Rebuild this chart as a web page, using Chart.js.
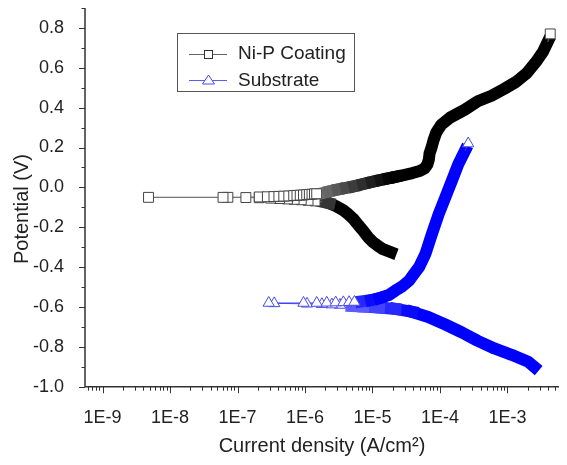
<!DOCTYPE html>
<html>
<head>
<meta charset="utf-8">
<script src="https://cdn.jsdelivr.net/npm/chart.js@4.4.1/dist/chart.umd.min.js"></script>
<style>
  html, body { margin: 0; padding: 0; background: #fff; }
</style>
</head>
<body>
<canvas id="myChart" width="567" height="465"></canvas>
<script>
// Ni-P coating: potential sweep, cathodic end -> Ecorr -> anodic end
var coatCathodicI = [1.87e-5, 1.43e-5, 1.17e-5, 1.02e-5, 8.6e-6, 7.3e-6, 6.2e-6, 5.2e-6, 4.4e-6, 3.7e-6, 2.9e-6, 2.3e-6, 1.78e-6];
var coatCathodicE = [-0.325, -0.31, -0.29, -0.275, -0.25, -0.218, -0.19, -0.158, -0.135, -0.115, -0.095, -0.08, -0.072];
var coatEcorrI = [1.41e-6, 1.11e-6, 8.8e-7, 6.9e-7, 5.5e-7, 4.2e-7, 3.1e-7, 2.1e-7, 1.33e-7, 7.2e-8, 4.8e-9, 6.1e-8, 2.1e-7, 2.77e-7, 3.47e-7, 4.1e-7, 4.85e-7, 5.75e-7, 6.8e-7, 7.6e-7, 8.5e-7, 9.5e-7, 1.06e-6, 1.16e-6, 1.27e-6, 1.38e-6, 1.49e-6];
var coatEcorrE = [-0.068, -0.065, -0.062, -0.06, -0.058, -0.056, -0.054, -0.052, -0.051, -0.05, -0.05, -0.05, -0.048, -0.047, -0.046, -0.045, -0.044, -0.043, -0.041, -0.04, -0.039, -0.038, -0.036, -0.035, -0.034, -0.033, -0.032];
var coatAnodicI = [1.84e-6, 2.3e-6, 3.1e-6, 4.1e-6, 5.4e-6, 7.3e-6, 9.9e-6, 1.34e-5, 1.75e-5, 2.2e-5, 2.9e-5, 3.9e-5, 5.0e-5, 5.9e-5, 6.5e-5, 6.85e-5, 7.0e-5, 7.5e-5, 8.0e-5, 8.8e-5, 1.05e-4, 1.41e-4, 2.34e-4, 3.63e-4, 5.8e-4, 9.0e-4, 1.35e-3, 1.95e-3, 2.65e-3, 3.35e-3, 3.95e-3, 4.3e-3];
var coatAnodicE = [-0.028, -0.02, -0.01, -0.002, 0.006, 0.017, 0.028, 0.038, 0.046, 0.053, 0.062, 0.072, 0.082, 0.095, 0.115, 0.14, 0.17, 0.2, 0.235, 0.275, 0.315, 0.35, 0.39, 0.432, 0.46, 0.495, 0.53, 0.575, 0.63, 0.68, 0.73, 0.77];

// Substrate
var subCathodicI = [2.48e-3, 2.03e-3, 1.15e-3, 6.4e-4, 3.63e-4, 2.12e-4, 1.2e-4, 6.7e-5, 3.9e-5, 2.2e-5, 1.25e-5, 7.3e-6, 4.9e-6];
var subCathodicE = [-0.9, -0.875, -0.84, -0.808, -0.77, -0.728, -0.688, -0.65, -0.625, -0.61, -0.603, -0.598, -0.595];
var subEcorrI = [3.3e-6, 2.5e-6, 1.78e-6, 1.07e-6, 3.5e-7, 2.9e-7, 9.5e-7, 1.49e-6, 2.1e-6, 2.85e-6, 3.7e-6, 4.5e-6, 5.4e-6];
var subEcorrE = [-0.59, -0.588, -0.586, -0.584, -0.582, -0.58, -0.58, -0.58, -0.579, -0.578, -0.577, -0.576, -0.575];
var subAnodicI = [6.8e-6, 9.6e-6, 1.29e-5, 1.75e-5, 2.2e-5, 2.8e-5, 3.5e-5, 4.1e-5, 4.9e-5, 5.5e-5, 6.1e-5, 7.6e-5, 9.6e-5, 1.2e-4, 1.5e-4, 1.87e-4, 2.34e-4, 2.62e-4];
var subAnodicE = [-0.572, -0.565, -0.555, -0.54, -0.517, -0.495, -0.467, -0.435, -0.4, -0.365, -0.333, -0.233, -0.133, -0.05, 0.033, 0.117, 0.183, 0.22];

var seriesNames = ['Ni-P Coating', 'Substrate'];
var xTicks = [1e-9, 1e-8, 1e-7, 1e-6, 1e-5, 1e-4, 1e-3];
var yTicks = [-1.0, -0.8, -0.6, -0.4, -0.2, 0.0, 0.2, 0.4, 0.6, 0.8];
var xTitle = 'Current density (A/cm\u00B2)';
var yTitle = 'Potential (V)';

var FONT = '"Liberation Sans", Arial, sans-serif';
var TEXT = '#222';

function pts(I, E) {
    return I.map(function (v, i) { return {x: v, y: E[i]}; });
}

// fade factor 1 -> 0 as log10(current) goes from lo to hi
function fade(x, lo, hi) {
    var t = (Math.log10(x) - lo) / (hi - lo);
    return Math.max(0, Math.min(1, 1 - t));
}

// one dataset per sample: thick band where the points are packed,
// open markers around Ecorr and at the last point
function makeSeries(label, cath, near, anod, st) {
    var data = cath.concat(near, anod);
    var n1 = cath.length, n2 = n1 + near.length, last = data.length - 1;
    function marked(i) { return (i >= n1 && i < n2) || i === last; }
    function thin(i) { return (i >= n1 - 1 && i < n2) || i === last - 1; }
    return {
        label: label,
        data: data,
        showLine: true,
        borderColor: st.band,
        borderWidth: st.width,
        borderJoinStyle: 'round',
        borderCapStyle: 'square',
        pointStyle: st.marker,
        pointRadius: function (c) { return marked(c.dataIndex) ? st.radius : 0; },
        pointBackgroundColor: '#fff',
        pointBorderColor: st.markerColor,
        pointBorderWidth: 1,
        segment: {
            borderWidth: function (c) { return thin(c.p0DataIndex) ? 1 : st.width; },
            borderCapStyle: function (c) { return thin(c.p0DataIndex) ? 'butt' : 'square'; },
            borderColor: function (c) {
                var i = c.p0DataIndex;
                if (thin(i)) return st.thin;
                var x = Math.sqrt(c.p0.parsed.x * c.p1.parsed.x);
                return st.tone(x, i < n1);
            }
        }
    };
}

var coatSeries = makeSeries(seriesNames[0],
    pts(coatCathodicI, coatCathodicE), pts(coatEcorrI, coatEcorrE), pts(coatAnodicI, coatAnodicE),
    {
        band: '#000', width: 12, thin: '#777', marker: 'rect', radius: 7, markerColor: '#444',
        tone: function (x, cathodic) {
            var g = cathodic ? Math.round(85 * fade(x, -5.75, -5.6))
                             : Math.round(120 * fade(x, -5.75, -4.65));
            return 'rgb(' + g + ',' + g + ',' + g + ')';
        }
    });

var subSeries = makeSeries(seriesNames[1],
    pts(subCathodicI, subCathodicE), pts(subEcorrI, subEcorrE), pts(subAnodicI, subAnodicE),
    {
        band: '#0000ff', width: 12, thin: '#4040ff', marker: 'triangle', radius: 6.5, markerColor: '#4a4ae6',
        tone: function (x, cathodic) {
            var g = cathodic ? Math.round(100 * fade(x, -5.3, -4.45))
                             : Math.round(60 * fade(x, -5.2, -4.9));
            return 'rgb(' + g + ',' + g + ',255)';
        }
    });

var frameAndLegend = {
    id: 'frameAndLegend',
    afterDraw: function (chart) {
        var ctx = chart.ctx, a = chart.chartArea;
        var xs = chart.scales.x, ys = chart.scales.y;
        ctx.save();

        // axis lines (left and bottom only)
        ctx.strokeStyle = '#333';
        ctx.lineWidth = 1.5;
        ctx.beginPath();
        ctx.moveTo(a.left, a.top);
        ctx.lineTo(a.left, a.bottom);
        ctx.lineTo(a.right, a.bottom);
        ctx.stroke();

        // tick marks, pointing out
        ctx.lineWidth = 1;
        ctx.beginPath();
        for (var k = -10; k <= 9; k++) {
            var py = Math.round(ys.getPixelForValue(k / 10)) + 0.5;
            ctx.moveTo(a.left, py);
            ctx.lineTo(a.left - (k % 2 === 0 ? 6 : 3.5), py);
        }
        for (var e = -10; e <= -3; e++) {
            for (var m = 1; m <= 9; m++) {
                var v = m * Math.pow(10, e);
                if (v < xs.min || v > xs.max) continue;
                var px = Math.round(xs.getPixelForValue(v)) + 0.5;
                ctx.moveTo(px, a.bottom);
                ctx.lineTo(px, a.bottom + (m === 1 ? 6.5 : 4));
            }
        }
        ctx.stroke();

        // axis titles
        ctx.fillStyle = TEXT;
        ctx.font = '20px ' + FONT;
        ctx.textAlign = 'center';
        ctx.textBaseline = 'middle';
        ctx.fillText(xTitle, (a.left + a.right) / 2, 446);
        ctx.save();
        ctx.translate(22.5, 209);
        ctx.rotate(-Math.PI / 2);
        ctx.fillText(yTitle, 0, 0);
        ctx.restore();

        // legend box
        ctx.strokeStyle = '#555';
        ctx.strokeRect(177.5, 33.5, 177, 58);
        ctx.font = '19px ' + FONT;
        ctx.textAlign = 'left';

        // Ni-P row
        ctx.strokeStyle = '#666';
        ctx.beginPath();
        ctx.moveTo(189, 54.5); ctx.lineTo(227, 54.5);
        ctx.stroke();
        ctx.fillStyle = '#fff';
        ctx.strokeStyle = '#333';
        ctx.fillRect(204.5, 50.5, 8, 8);
        ctx.strokeRect(204.5, 50.5, 8, 8);
        ctx.fillStyle = TEXT;
        ctx.fillText(seriesNames[0], 238, 54);

        // Substrate row
        ctx.strokeStyle = '#5a5aff';
        ctx.beginPath();
        ctx.moveTo(189, 80.5); ctx.lineTo(227, 80.5);
        ctx.stroke();
        ctx.fillStyle = '#fff';
        ctx.strokeStyle = '#4a4ae6';
        ctx.beginPath();
        ctx.moveTo(208.5, 75); ctx.lineTo(214.5, 84); ctx.lineTo(202.5, 84); ctx.closePath();
        ctx.fill(); ctx.stroke();
        ctx.fillStyle = TEXT;
        ctx.fillText(seriesNames[1], 238, 80.5);

        ctx.restore();
    }
};

var ctx = document.getElementById('myChart').getContext('2d');

var chart = new Chart(ctx, {
    type: 'scatter',
    data: { datasets: [coatSeries, subSeries] },
    options: {
        responsive: false,
        animation: false,
        events: [],
        layout: { padding: { left: 0, top: 6.7, right: 1.7, bottom: 0 } },
        plugins: { legend: { display: false }, tooltip: { enabled: false } },
        scales: {
            x: {
                type: 'logarithmic',
                min: 5.5e-10,
                max: 5.8e-3,
                grid: { display: false },
                border: { display: false },
                afterFit: function (s) {
                    s.height = 78.3;
                    s.paddingLeft = 0; s.paddingRight = 0;
                },
                afterBuildTicks: function (s) {
                    s.ticks = xTicks.map(function (v) { return {value: v}; });
                },
                ticks: {
                    autoSkip: false,
                    maxRotation: 0,
                    padding: 13,
                    color: TEXT,
                    font: { family: FONT, size: 18 },
                    callback: function (v) { return '1E' + Math.round(Math.log10(v)); }
                }
            },
            y: {
                min: -1.0,
                max: 0.9,
                grid: { display: false },
                border: { display: false },
                afterFit: function (s) {
                    s.width = 85;
                    s.paddingTop = 0; s.paddingBottom = 0;
                },
                afterBuildTicks: function (s) {
                    s.ticks = yTicks.map(function (v) { return {value: v}; });
                },
                ticks: {
                    padding: 13,
                    color: TEXT,
                    font: { family: FONT, size: 18 },
                    callback: function (v) { return v.toFixed(1); }
                }
            }
        }
    },
    plugins: [frameAndLegend]
});
</script>
</body>
</html>
